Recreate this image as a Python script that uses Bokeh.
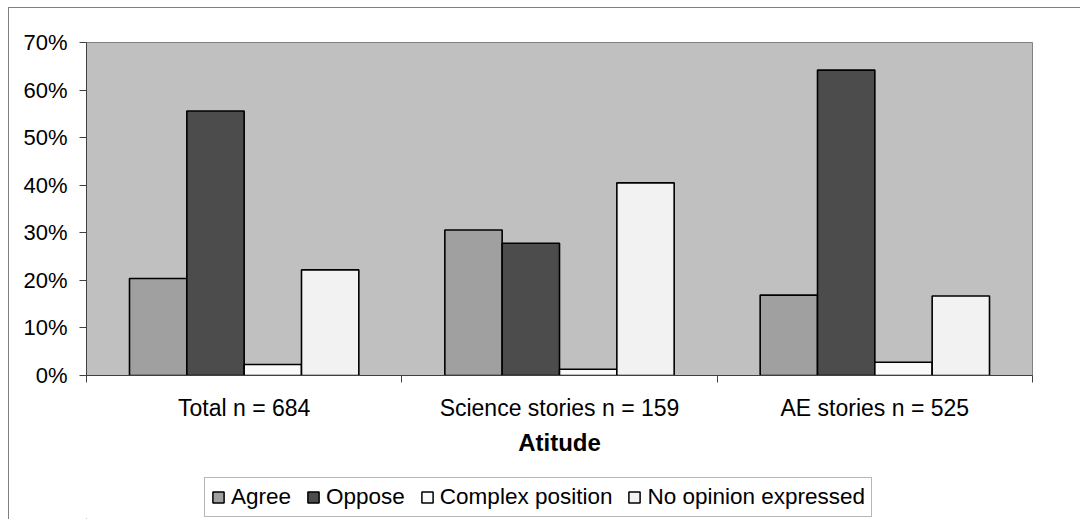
from bokeh.plotting import figure
from bokeh.layouts import column
from bokeh.models import (FixedTicker, NumeralTickFormatter, Legend, LegendItem,
                          ColumnDataSource, Range1d, InlineStyleSheet)
from bokeh.embed import file_html
from bokeh.resources import INLINE

# Share of stories by attitude, per story group
groups = ["Total n = 684", "Science stories n = 159", "AE stories n = 525"]
series = ["Agree", "Oppose", "Complex position", "No opinion expressed"]
agree = [0.204, 0.306, 0.169]
oppose = [0.556, 0.278, 0.642]
complex_position = [0.023, 0.013, 0.028]
no_opinion = [0.222, 0.405, 0.167]
y_ticks = [0.0, 0.1, 0.2, 0.3, 0.4, 0.5, 0.6, 0.7]

values = [agree, oppose, complex_position, no_opinion]
colors = ["#A0A0A0", "#4C4C4C", "#FAFAFA", "#F2F2F2"]

FONT = "Liberation Sans"
W = 1080
H_CHART = 470
H_KEY = 49


def frame_edge(top):
    # thin grey frame around the whole chart area (only top/left edges are in view)
    top_rule = "border-top: 1px solid #808080;" if top else ""
    return InlineStyleSheet(css=f"""
:host {{ position: relative; }}
:host::after {{
  content: ""; position: absolute; left: 8px; top: {7 if top else 0}px; right: 0; bottom: 0;
  border-left: 1px solid #808080; {top_rule}
  pointer-events: none;
}}
""")


p = figure(width=W, height=H_CHART, output_backend="svg", toolbar_location=None,
           x_range=Range1d(0, len(groups)), y_range=Range1d(0, 0.7),
           min_border_left=86, min_border_right=48, min_border_top=42,
           min_border_bottom=H_CHART - 375, stylesheets=[frame_edge(True)])
p.background_fill_color = "#C0C0C0"
p.border_fill_color = "white"
p.outline_line_color = "#808080"
p.outline_line_width = 1
p.xgrid.visible = False
p.ygrid.visible = False

# bars: four per group, gap of 1.5 bar widths between groups
bar_w = 1.0 / (len(series) + 1.5)
for k_, (vals, col) in enumerate(zip(values, colors)):
    offset = (k_ - (len(series) - 1) / 2) * bar_w
    xs = [i + 0.5 + offset for i in range(len(groups))]
    src = ColumnDataSource(dict(x=xs, top=vals))
    p.vbar(x="x", top="top", width=bar_w, bottom=0, source=src,
           fill_color=col, line_color="black", line_width=1.6)

# x axis: labels at group centres, tick marks at group boundaries
centres = [i + 0.5 for i in range(len(groups))]
p.xaxis.ticker = FixedTicker(ticks=centres, minor_ticks=list(range(len(groups) + 1)))
p.xaxis.major_label_overrides = {c: g for c, g in zip(centres, groups)}
p.xaxis.major_tick_out = 0
p.xaxis.major_tick_in = 0
p.xaxis.minor_tick_out = 7
p.xaxis.minor_tick_in = 0
p.xaxis.major_label_standoff = 12
p.xaxis.axis_label = "Atitude"
p.xaxis.axis_label_text_font = FONT
p.xaxis.axis_label_text_font_size = "24px"
p.xaxis.axis_label_text_font_style = "bold"
p.xaxis.axis_label_text_color = "black"
p.xaxis.axis_label_standoff = 5

p.yaxis.ticker = FixedTicker(ticks=y_ticks)
p.yaxis.formatter = NumeralTickFormatter(format="0%")
p.yaxis.major_tick_out = 7
p.yaxis.major_tick_in = 0
p.yaxis.minor_tick_out = 0
p.yaxis.minor_tick_in = 0
p.yaxis.major_label_standoff = 12

for ax in (p.xaxis, p.yaxis):
    ax.axis_line_color = "#404040"
    ax.major_tick_line_color = "#404040"
    ax.minor_tick_line_color = "#404040"
    ax.major_label_text_font = FONT
    ax.major_label_text_font_size = "22px"
    ax.major_label_text_color = "black"
p.xaxis.major_label_text_font_size = "23px"

# key strip under the chart (its frame lines up with the chart's frame)
k = figure(width=W, height=H_KEY, output_backend="svg", toolbar_location=None,
           x_axis_location=None, y_axis_location=None,
           x_range=Range1d(0, 1), y_range=Range1d(0, 1),
           min_border_left=0, min_border_right=0, min_border_top=0,
           min_border_bottom=0, stylesheets=[frame_edge(False)])
k.outline_line_color = None
k.background_fill_color = "white"
k.border_fill_color = "white"
k.xgrid.visible = False
k.ygrid.visible = False

# swatch renderers for the key sit outside the strip's visible range
items = []
for name, col in zip(series, colors):
    swatch = k.vbar(x=[-1], top=[0], width=0.1, fill_color=col,
                    line_color="black", line_width=1.5)
    items.append(LegendItem(label=name, renderers=[swatch]))

legend = Legend(items=items, orientation="horizontal", location=(118, 2))
legend.label_text_font = FONT
legend.label_text_font_size = "22.5px"
legend.label_text_color = "black"
legend.glyph_width = 14
legend.glyph_height = 14
legend.label_standoff = 6
legend.spacing = 15
legend.padding = 6
legend.margin = 0
legend.border_line_color = "#707070"
legend.border_line_width = 1
legend.background_fill_color = "white"
legend.background_fill_alpha = 1.0
k.add_layout(legend, "center")

open("out.html", "w").write(file_html(column(p, k, spacing=0), INLINE))
